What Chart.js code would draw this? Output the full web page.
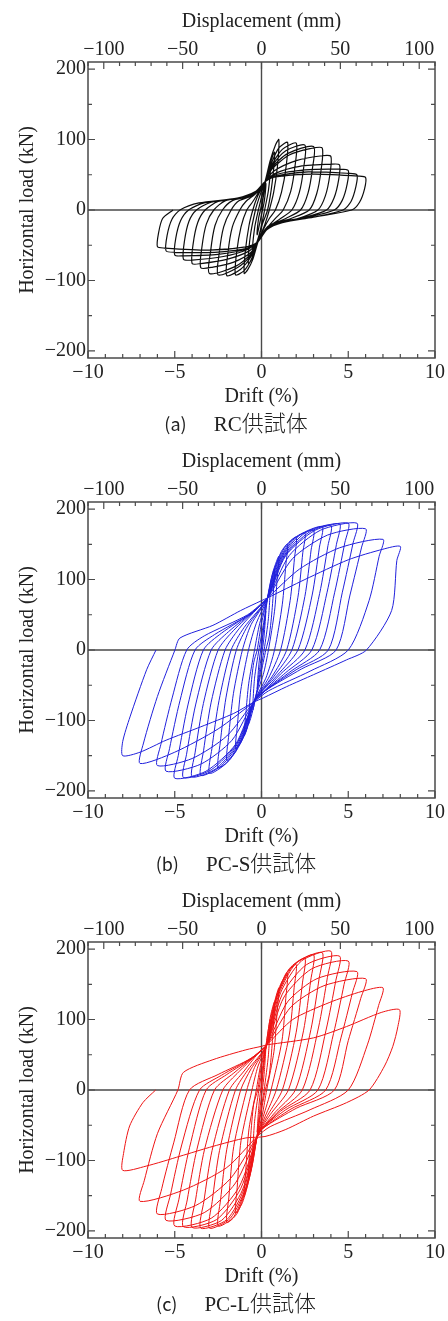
<!DOCTYPE html>
<html><head><meta charset="utf-8">
<script src="https://cdn.jsdelivr.net/npm/chart.js@4.4.0/dist/chart.umd.min.js"></script>
<style>
html,body{margin:0;padding:0;background:#fff;}
#wrap{position:relative;width:448px;height:1321px;overflow:hidden;background:#fff;}
.panel{position:absolute;left:0;width:448px;height:440px;}
.cap{position:absolute;left:236px;transform:translate(-50%,-50%);white-space:nowrap;color:#222;line-height:1;}
.cap .lab{font-family:"Noto Sans CJK JP";font-size:18px;margin-right:27px;}
.cap .nm{font-family:"Liberation Serif",serif;font-size:21px;}
.cap .jp{font-family:"Noto Sans CJK JP";font-size:22px;font-weight:300;}
</style></head>
<body>
<div id="wrap">
  <div class="panel" style="top:0px"><canvas id="c0" width="448" height="440"></canvas></div>
  <div class="panel" style="top:440px"><canvas id="c1" width="448" height="440"></canvas></div>
  <div class="panel" style="top:880px"><canvas id="c2" width="448" height="440"></canvas></div>
  <div class="cap" style="top:422px"><span class="lab">(a)</span><span class="nm">RC</span><span class="jp">供試体</span></div>
  <div class="cap" style="top:862px"><span class="lab">(b)</span><span class="nm">PC-S</span><span class="jp">供試体</span></div>
  <div class="cap" style="top:1302px"><span class="lab">(c)</span><span class="nm">PC-L</span><span class="jp">供試体</span></div>
</div>
<script>
// ---- tick definitions ----
const driftTicks = [-10, -5, 0, 5, 10];
const driftMinor = [-10,-9,-8,-7,-6,-5,-4,-3,-2,-1,0,1,2,3,4,5,6,7,8,9,10];
const dispTicks = [-100, -50, 0, 50, 100];
const dispMinor = [-110,-100,-90,-80,-70,-60,-50,-40,-30,-20,-10,0,10,20,30,40,50,60,70,80,90,100,110];
const loadTicks = [-200, -100, 0, 100, 200];
const loadMinor = [-200,-150,-100,-50,0,50,100,150,200];

// ---- RC specimen: [drift %, load kN] in loading order ----
const rcData = [
[0,0],
[0.1,18],[0.25,38],[0.17,14],[0.06,0],[-0.08,-16],[-0.25,-35],[-0.17,-12],[-0.06,0],
[0.1,20],[0.25,42],[0.5,60],[0.4,28],[0.18,0],[0,-22],[-0.22,-42],[-0.5,-58],[-0.4,-26],[-0.18,0],
[0,18],[0.2,38],[0.45,62],[0.75,82],[0.62,40],[0.35,0],[0.05,-20],[-0.2,-44],[-0.45,-64],[-0.75,-76],[-0.65,-38],[-0.35,0],
[-0.1,20],[0.2,40],[0.5,70],[0.8,92],[1.0,100],[0.92,62],[0.7,25],[0.45,0],[0.2,-20],[-0.2,-45],[-0.5,-70],[-0.8,-85],[-1.0,-90],[-0.93,-58],[-0.72,-22],[-0.5,0],
[-0.25,18],[0.2,40],[0.55,65],[1.0,88],[1.5,96],[1.42,62],[1.15,25],[0.8,0],[0.45,-12],[0.1,-28],[-0.2,-45],[-0.55,-68],[-1.0,-86],[-1.5,-92],[-1.43,-60],[-1.18,-24],[-0.85,0],
[-0.5,12],[-0.15,26],[0.2,40],[0.6,64],[1.2,86],[2.0,95],[1.93,62],[1.68,26],[1.25,0],[0.8,-12],[0.3,-26],[-0.2,-45],[-0.6,-66],[-1.2,-84],[-2.0,-93],[-1.93,-60],[-1.68,-24],[-1.25,0],
[-0.9,12],[-0.3,24],[0.2,40],[0.6,62],[1.4,84],[2.5,92],[2.43,60],[2.18,25],[1.75,0],[1.1,-12],[0.3,-26],[-0.2,-45],[-0.6,-64],[-1.4,-82],[-2.5,-92],[-2.43,-60],[-2.18,-24],[-1.75,0],
[-1.3,13],[-0.4,22],[0.2,40],[0.6,60],[1.5,80],[3.0,90],[2.93,58],[2.68,24],[2.25,0],[1.4,-12],[0.4,-24],[-0.2,-45],[-0.6,-62],[-1.5,-80],[-3.0,-90],[-2.93,-58],[-2.68,-22],[-2.25,0],
[-1.7,13],[-0.5,21],[0.2,40],[0.6,58],[1.6,78],[2.8,87],[3.5,88],[3.43,56],[3.18,23],[2.75,0],[1.7,-12],[0.5,-22],[-0.2,-45],[-0.6,-60],[-1.6,-74],[-2.8,-81],[-3.5,-82],[-3.43,-52],[-3.18,-20],[-2.75,0],
[-2.1,13],[-0.7,19],[-0.2,27],[0.2,40],[0.7,55],[2.0,70],[3.5,77],[4.0,76],[3.94,50],[3.68,20],[3.25,0],[2.1,-12],[0.6,-20],[0.2,-28],[-0.2,-45],[-0.7,-58],[-2.0,-70],[-3.5,-76],[-4.0,-76],[-3.94,-48],[-3.68,-18],[-3.25,0],
[-2.5,12],[-0.8,19],[-0.25,27],[0.2,40],[0.8,52],[2.2,62],[4.0,65],[4.5,64],[4.44,42],[4.18,17],[3.75,0],[2.4,-11],[0.7,-19],[0.25,-28],[-0.2,-45],[-0.8,-56],[-2.2,-66],[-4.0,-71],[-4.5,-70],[-4.44,-44],[-4.18,-16],[-3.75,0],
[-2.9,11],[-1.0,18],[-0.3,27],[0.2,40],[0.8,50],[2.5,57],[4.5,58],[5.0,56],[4.94,37],[4.66,14],[4.2,0],[2.7,-10],[0.9,-18],[0.3,-28],[-0.2,-45],[-0.8,-55],[-2.5,-63],[-4.5,-65],[-5.0,-64],[-4.94,-40],[-4.66,-15],[-4.2,0],
[-3.3,10],[-1.2,17],[-0.3,27],[0.2,40],[0.8,48],[2.7,54],[5.0,52],[5.5,50],[5.44,33],[5.16,12],[4.7,0],[3.0,-10],[1.1,-18],[0.3,-28],[-0.2,-45],[-0.8,-54],[-2.7,-60],[-5.0,-60],[-5.5,-58],[-5.44,-36],[-5.16,-13],[-4.7,0],
[-3.6,10],[-1.4,17],[-0.3,27],[0.2,40],[0.8,47],[3.0,51],[5.6,48],[6.0,46],[5.94,30],[5.65,11],[5.2,0],[3.0,-10],[1.2,-18],[0.3,-28],[-0.2,-45],[-0.8,-52],[-3.0,-57],[-5.6,-54],[-6.0,-52],[-5.93,-32],[-5.7,-12],[-5.1,0]
];

// ---- PC-S specimen ----
const pcsData = [
[0,0],
[0.1,25],[0.25,55],[0.15,20],[0.05,0],[-0.1,-25],[-0.25,-55],[-0.15,-20],[-0.05,0],
[0.15,35],[0.3,65],[0.5,90],[0.4,45],[0.15,0],[-0.1,-35],[-0.3,-62],[-0.5,-85],[-0.4,-40],[-0.15,0],
[0.1,35],[0.35,75],[0.55,100],[0.75,115],[0.62,60],[0.45,20],[0.25,0],[-0.05,-35],[-0.4,-75],[-0.6,-95],[-0.75,-105],[-0.62,-55],[-0.45,-18],[-0.25,0],
[0,38],[0.35,74],[0.65,110],[1.0,133],[0.9,100],[0.75,55],[0.4,0],[0.1,-35],[-0.45,-74],[-0.75,-105],[-1.0,-122],[-0.9,-90],[-0.74,-48],[-0.4,0],
[-0.1,38],[0.35,74],[0.75,115],[1.15,140],[1.5,150],[1.4,120],[1.2,65],[0.75,0],[0.25,-40],[-0.45,-74],[-0.85,-112],[-1.2,-132],[-1.5,-140],[-1.4,-110],[-1.2,-58],[-0.75,0],
[-0.3,38],[0.35,74],[0.8,118],[1.4,148],[2.0,160],[1.9,130],[1.65,70],[1.1,0],[0.4,-40],[-0.45,-74],[-0.9,-115],[-1.5,-145],[-2.0,-157],[-1.9,-124],[-1.62,-62],[-1.1,0],
[-0.6,36],[0.35,74],[0.9,122],[1.7,155],[2.5,166],[2.38,138],[2.1,75],[1.45,0],[0.6,-38],[-0.45,-74],[-1.0,-120],[-1.8,-155],[-2.5,-167],[-2.38,-132],[-2.05,-68],[-1.45,0],
[-0.8,34],[0.35,74],[1.0,125],[1.9,158],[3.0,170],[2.86,142],[2.5,76],[1.75,0],[0.7,-38],[-0.45,-74],[-1.1,-124],[-2.0,-160],[-3.0,-175],[-2.86,-140],[-2.45,-72],[-1.75,0],
[-1.0,32],[0.35,74],[1.1,128],[2.2,163],[3.5,175],[3.34,146],[2.92,78],[2.1,0],[0.9,-36],[-0.45,-74],[-1.2,-128],[-2.3,-164],[-3.5,-178],[-3.34,-143],[-2.9,-74],[-2.1,0],
[-1.3,30],[-0.2,60],[0.35,74],[1.2,130],[2.5,166],[4.0,177],[3.83,148],[3.35,80],[2.5,0],[1.1,-34],[0.1,-60],[-0.45,-74],[-1.3,-130],[-2.6,-168],[-4.0,-180],[-3.83,-146],[-3.35,-76],[-2.5,0],
[-1.6,28],[-0.3,58],[0.35,74],[1.3,132],[2.8,168],[4.5,179],[4.32,150],[3.78,82],[2.9,0],[1.4,-32],[0.1,-60],[-0.45,-74],[-1.4,-132],[-2.9,-170],[-4.5,-181],[-4.32,-148],[-3.8,-78],[-2.9,0],
[-1.9,26],[-0.4,56],[0.35,74],[1.4,134],[3.1,170],[5.0,180],[4.8,152],[4.22,82],[3.35,0],[1.7,-30],[0.1,-60],[-0.45,-74],[-1.5,-134],[-3.2,-172],[-5.0,-182],[-4.8,-150],[-4.24,-78],[-3.35,0],
[-2.3,24],[-0.5,54],[0.35,74],[1.6,134],[3.4,170],[5.5,180],[5.28,152],[4.66,82],[3.85,0],[2.0,-28],[0.2,-58],[-0.45,-74],[-1.7,-128],[-3.5,-162],[-5.5,-172],[-5.3,-140],[-4.7,-72],[-3.83,0],
[-2.7,22],[-0.6,52],[0.35,74],[1.8,130],[3.8,163],[6.0,172],[5.77,146],[5.1,78],[4.3,0],[2.3,-27],[0.2,-58],[-0.45,-74],[-2.0,-122],[-4.0,-154],[-6.0,-164],[-5.8,-134],[-5.15,-68],[-4.31,0],
[-3.3,20],[-0.8,50],[0.35,74],[2.2,115],[4.5,145],[7.0,157],[6.78,133],[6.2,70],[5.0,0],[2.8,-30],[0.4,-58],[-0.45,-74],[-2.5,-112],[-5.0,-145],[-7.0,-161],[-6.8,-132],[-6.0,-66],[-4.99,0],
[-4.7,17],[-2.8,35],[-1.2,56],[0,70],[0.35,74],[2.5,100],[5.0,128],[7.0,143],[8.0,147],[7.8,127],[7.5,56],[6.05,0],[4.9,-14],[3.0,-35],[1.45,-52],[0.1,-68],[-0.45,-74],[-1.6,-90],[-3.5,-109],[-5.5,-128],[-7.0,-145],[-8.0,-150],[-8.0,-130],[-7.58,-95],[-6.62,-28],[-6.08,0]
];

// ---- PC-L specimen ----
const pclData = [
[0,0],
[0.1,28],[0.25,60],[0.15,22],[0.05,0],[-0.1,-28],[-0.25,-60],[-0.15,-22],[-0.05,0],
[0.12,35],[0.3,70],[0.5,100],[0.4,50],[0.15,0],[-0.08,-35],[-0.28,-68],[-0.5,-95],[-0.4,-45],[-0.15,0],
[0.08,35],[0.3,70],[0.52,105],[0.75,125],[0.63,70],[0.45,22],[0.22,0],[-0.05,-35],[-0.3,-72],[-0.52,-105],[-0.75,-125],[-0.63,-68],[-0.45,-20],[-0.22,0],
[0,35],[0.3,64],[0.6,110],[1.0,145],[0.9,110],[0.72,55],[0.3,0],[0.05,-35],[-0.25,-66],[-0.6,-115],[-1.0,-150],[-0.9,-112],[-0.72,-55],[-0.3,0],
[-0.05,35],[0.3,64],[0.7,118],[1.1,150],[1.5,165],[1.4,130],[1.18,70],[0.55,0],[0.1,-38],[-0.25,-66],[-0.7,-125],[-1.1,-160],[-1.5,-175],[-1.4,-138],[-1.18,-72],[-0.55,0],
[-0.2,34],[0.3,64],[0.8,125],[1.4,165],[2.0,178],[1.88,145],[1.6,78],[0.85,0],[0.2,-38],[-0.25,-66],[-0.8,-132],[-1.4,-175],[-2.0,-188],[-1.88,-152],[-1.6,-80],[-0.85,0],
[-0.4,32],[0.3,64],[0.85,130],[1.6,172],[2.5,187],[2.36,152],[2.0,82],[1.2,0],[0.35,-36],[-0.25,-66],[-0.85,-135],[-1.6,-180],[-2.5,-193],[-2.36,-156],[-2.0,-84],[-1.2,0],
[-0.6,30],[0.3,64],[0.9,133],[1.8,176],[3.0,192],[2.84,156],[2.42,84],[1.55,0],[0.5,-35],[-0.25,-66],[-0.9,-138],[-1.8,-182],[-3.0,-196],[-2.84,-158],[-2.42,-86],[-1.5,0],
[-0.8,28],[0.3,64],[1.0,136],[2.0,180],[3.5,195],[3.32,158],[2.85,86],[1.95,0],[0.7,-34],[-0.25,-66],[-1.0,-140],[-2.0,-184],[-3.5,-196],[-3.32,-158],[-2.85,-86],[-1.85,0],
[-1.0,27],[-0.2,52],[0.3,64],[1.1,138],[2.3,183],[4.0,197],[3.8,160],[3.28,88],[2.35,0],[0.9,-32],[0,-56],[-0.25,-66],[-1.1,-142],[-2.3,-185],[-4.0,-195],[-3.8,-156],[-3.28,-84],[-2.23,0],
[-1.3,26],[-0.3,50],[0.3,64],[1.2,136],[2.6,178],[4.5,190],[4.28,155],[3.72,85],[2.8,0],[1.1,-30],[0,-56],[-0.25,-66],[-1.2,-140],[-2.6,-184],[-4.5,-194],[-4.28,-156],[-3.72,-84],[-2.71,0],
[-1.6,24],[-0.4,48],[0.3,64],[1.3,132],[2.9,172],[5.0,183],[4.76,150],[4.15,80],[3.25,0],[1.4,-28],[0,-55],[-0.25,-66],[-1.3,-138],[-2.9,-182],[-5.0,-193],[-4.76,-155],[-4.15,-82],[-3.19,0],
[-2.0,22],[-0.5,46],[0.3,64],[1.5,125],[3.2,158],[5.5,168],[5.24,138],[4.58,74],[3.7,0],[1.7,-27],[0.1,-54],[-0.25,-66],[-1.5,-132],[-3.3,-174],[-5.5,-185],[-5.24,-148],[-4.6,-78],[-3.57,0],
[-2.3,21],[-0.6,45],[0.3,64],[1.7,118],[3.6,148],[6.0,158],[5.72,130],[5.0,70],[4.2,0],[2.0,-26],[0.1,-54],[-0.25,-66],[-1.8,-126],[-3.8,-164],[-6.0,-176],[-5.75,-140],[-5.05,-74],[-4.15,0],
[-2.5,22],[-0.6,45],[0.3,64],[1.8,100],[3.9,124],[5.8,140],[7.0,145],[6.75,120],[6.1,64],[5.0,0],[2.8,-28],[0.5,-52],[-0.25,-66],[-2.0,-110],[-4.5,-142],[-7.0,-158],[-6.75,-128],[-6.0,-62],[-4.82,0],
[-4.5,25],[-2.8,43],[-0.9,57],[0,62],[0.3,64],[3.0,74],[4.9,90],[6.9,110],[7.95,114],[7.86,90],[7.57,62],[7.09,34],[6.2,0],[4.9,-18],[3.0,-37],[1.4,-56],[0.2,-66],[-0.9,-68],[-2.8,-80],[-4.7,-94],[-6.65,-108],[-8.0,-114],[-7.95,-90],[-7.6,-51],[-6.84,-18],[-6.1,0]
];

const panels = [
  { id: 'c0', data: rcData,  color: '#0d0d0d', width: 1.2 },
  { id: 'c1', data: pcsData, color: '#2020dc', width: 1 },
  { id: 'c2', data: pclData, color: '#ee1414', width: 1 }
];

const fmt = v => (v < 0 ? '\u2212' + Math.abs(v) : String(v));
const FONT = "'Liberation Serif', 'Times New Roman', serif";
const TXT = '#222';
const AXC = '#4a4a4a';

const framePlugin = {
  id: 'frame',
  beforeDatasetsDraw(chart) {
    const { ctx, chartArea: a, scales } = chart;
    const x0 = scales.x.getPixelForValue(0);
    const y0 = scales.y.getPixelForValue(0);
    ctx.save();
    ctx.strokeStyle = AXC;
    ctx.lineWidth = 1.4;
    ctx.beginPath();
    ctx.moveTo(x0, a.top); ctx.lineTo(x0, a.bottom);
    ctx.moveTo(a.left, y0); ctx.lineTo(a.right, y0);
    ctx.stroke();
    ctx.restore();
  },
  afterDatasetsDraw(chart) {
    const { ctx, chartArea: a, scales } = chart;
    ctx.save();
    ctx.strokeStyle = AXC;
    ctx.lineWidth = 1.5;
    ctx.strokeRect(a.left, a.top, a.right - a.left, a.bottom - a.top);
    ctx.lineWidth = 1.2;
    ctx.beginPath();
    driftMinor.forEach(v => {
      const p = scales.x.getPixelForValue(v);
      const L = driftTicks.includes(v) ? 7 : 4;
      ctx.moveTo(p, a.bottom); ctx.lineTo(p, a.bottom - L);
    });
    dispMinor.forEach(v => {
      const p = scales.x2.getPixelForValue(v);
      const L = dispTicks.includes(v) ? 7 : 4;
      ctx.moveTo(p, a.top); ctx.lineTo(p, a.top + L);
    });
    loadMinor.forEach(v => {
      const p = scales.y.getPixelForValue(v);
      const L = loadTicks.includes(v) ? 7 : 4;
      ctx.moveTo(a.left, p); ctx.lineTo(a.left + L, p);
      ctx.moveTo(a.right, p); ctx.lineTo(a.right - L, p);
    });
    ctx.stroke();
    ctx.restore();
  }
};

panels.forEach(pn => {
  const ctx = document.getElementById(pn.id).getContext('2d');
  new Chart(ctx, {
    type: 'scatter',
    data: {
      datasets: [{
        data: pn.data.map(p => ({ x: p[0], y: p[1] })),
        showLine: true,
        borderColor: pn.color,
        borderWidth: pn.width,
        pointRadius: 0,
        tension: 0.25,
        fill: false
      }]
    },
    options: {
      responsive: false,
      animation: false,
      devicePixelRatio: 1,
      events: [],
      layout: { padding: { left: 0, right: 13, top: 0, bottom: 0 } },
      plugins: { legend: { display: false }, tooltip: { enabled: false } },
      scales: {
        x: {
          type: 'linear', position: 'bottom', min: -10, max: 10,
          afterBuildTicks: s => { s.ticks = driftTicks.map(v => ({ value: v })); },
          afterFit: s => { s.height = 82; },
          grid: { display: false, drawTicks: false },
          border: { display: false },
          ticks: { callback: v => fmt(v), font: { family: FONT, size: 20 }, color: TXT, padding: 3, maxRotation: 0, autoSkip: false },
          title: { display: true, text: 'Drift (%)', font: { family: FONT, size: 20 }, color: TXT, padding: { top: 0, bottom: 31 } }
        },
        x2: {
          type: 'linear', position: 'top', min: -110, max: 110,
          afterBuildTicks: s => { s.ticks = dispTicks.map(v => ({ value: v })); },
          afterFit: s => { s.height = 62; },
          grid: { display: false, drawTicks: false },
          border: { display: false },
          ticks: { callback: v => fmt(v), font: { family: FONT, size: 20 }, color: TXT, padding: 0, maxRotation: 0, autoSkip: false },
          title: { display: true, text: 'Displacement (mm)', font: { family: FONT, size: 20 }, color: TXT, padding: { top: 10, bottom: 0 } }
        },
        y: {
          type: 'linear', position: 'left', min: -210, max: 210,
          afterBuildTicks: s => { s.ticks = loadTicks.map(v => ({ value: v })); },
          afterFit: s => { s.width = 88; },
          grid: { display: false, drawTicks: false },
          border: { display: false },
          ticks: { callback: v => fmt(v), font: { family: FONT, size: 20 }, color: TXT, padding: 2, autoSkip: false },
          title: { display: true, text: 'Horizontal load (kN)', font: { family: FONT, size: 20 }, color: TXT, padding: { top: 16, bottom: 0 } }
        }
      }
    },
    plugins: [framePlugin]
  });
});
</script>
</body></html>
